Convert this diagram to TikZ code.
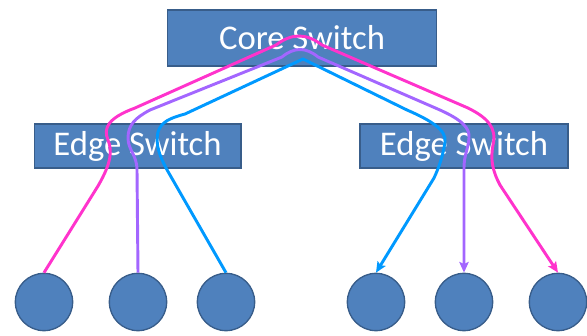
\documentclass[tikz,border=0pt]{standalone}
\usepackage{fontspec}
\setmainfont{Carlito}
\usetikzlibrary{arrows.meta}
\definecolor{switchblue}{RGB}{79,129,189}
\definecolor{switchedge}{RGB}{56,93,138}
\definecolor{pinkpath}{RGB}{255,51,204}
\definecolor{purplepath}{RGB}{163,102,255}
\definecolor{bluepath}{RGB}{0,153,255}

\begin{document}
\begin{tikzpicture}[
    x=0.75pt, y=-0.75pt,
    switch/.style={rectangle, draw=switchedge, line width=1pt, fill=switchblue, text=white, font=\fontsize{26}{30}\selectfont, inner sep=0pt},
    host/.style={circle, draw=switchedge, line width=1pt, fill=switchblue, minimum size=43pt, inner sep=0pt},
    route/.style={line width=2.2pt, line join=round, -{Stealth[length=8pt,width=7pt,inset=1.5pt]}}
]
\useasboundingbox (0,0) rectangle (587,336);

% ------------------ Switches ------------------
\node[switch, minimum width=202pt, minimum height=42pt] (core) at (302,38) {Core Switch};
\node[switch, minimum width=155pt, minimum height=33pt] (edgeL) at (137.5,146) {Edge Switch};
\node[switch, minimum width=156pt, minimum height=33pt] (edgeR) at (464,146) {Edge Switch};

% ------------------ Hosts ------------------
\node[host] (host1) at (44,302) {};
\node[host] (host2) at (138,302) {};
\node[host] (host3) at (226,302) {};
\node[host] (host4) at (376,302) {};
\node[host] (host5) at (464,302) {};
\node[host] (host6) at (558,302) {};

% ------------------ Routes ------------------
\draw[route, pinkpath] (host1.north) -- (98,186)
    .. controls (112,162) and (112,150) .. (108,140)
    .. controls (103,128) and (108,118) .. (135,108) -- (276,45)
    .. controls (292,33) and (306,33) .. (322,45) -- (468,108)
    .. controls (488,118) and (497,128) .. (493,145)
    .. controls (490,160) and (493,172) .. (500,185) -- (host6.north);

\draw[route, purplepath] (host2.north) -- (137,170)
    .. controls (137,155) and (128,150) .. (128,138)
    .. controls (128,125) and (135,118) .. (150,110) -- (282,57)
    .. controls (294,47) and (306,47) .. (318,57) -- (440,110)
    .. controls (462,120) and (470,128) .. (469,138)
    .. controls (468,150) and (464,155) .. (464,168) -- (host5.north);

\draw[route, bluepath] (host3.north) -- (170,175)
    .. controls (160,158) and (155,145) .. (158,132)
    .. controls (161,122) and (170,118) .. (185,114) -- (303,59) -- (407,110)
    .. controls (430,120) and (447,130) .. (445,142)
    .. controls (443,155) and (440,165) .. (434,178) -- (host4.north);

\end{tikzpicture}
\end{document}
